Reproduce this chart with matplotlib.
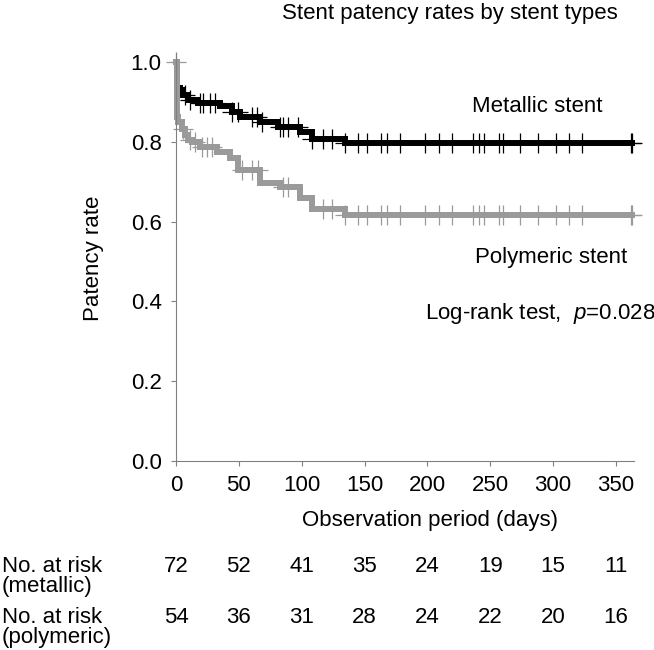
import matplotlib
matplotlib.use("Agg")
import matplotlib.pyplot as plt
import matplotlib.transforms as mtransforms
import numpy as np

plt.rcParams["font.family"] = ["Liberation Sans", "DejaVu Sans"]
plt.rcParams["mathtext.fontset"] = "custom"
plt.rcParams["mathtext.rm"] = "Liberation Sans"
plt.rcParams["mathtext.it"] = "Liberation Sans:italic"

# Kaplan-Meier steps (days, patency rate)
metal_days = [0, 1, 3.2, 5.8, 9.8, 17.8, 35, 44.3, 50.9, 66.8, 81.4, 98.6, 108, 134.4, 363]
metal_rate = [1.0, 0.935, 0.93, 0.918, 0.905, 0.897, 0.889, 0.876, 0.863, 0.849, 0.838,
              0.824, 0.808, 0.798, 0.798]
poly_days = [0, 1, 1.9, 4.5, 7.2, 9.8, 12.5, 19.1, 32.4, 43, 49.6, 66.8, 82.7, 98.6, 108,
             134.4, 363]
poly_rate = [1.0, 0.863, 0.851, 0.832, 0.818, 0.806, 0.800, 0.788, 0.776, 0.759, 0.730,
             0.698, 0.686, 0.659, 0.631, 0.616, 0.616]

# censoring times
late_censor = [145, 151.7, 162.8, 167.6, 178.2, 198.1, 209.5, 219.8, 236, 241.3, 245,
               257.2, 259.9, 273.7, 288.3, 302.3, 312.9, 322.7, 362, 363]
metal_censor = [7.2, 11.1, 19.1, 21.7, 27, 31, 44.3, 49.6, 60.2, 64.2, 68.2, 82.7, 85.4,
                89.3, 97.3, 108, 117.2, 123.9, 134.4] + late_censor
poly_censor = [0, 5.8, 11.1, 15.1, 20.4, 24.4, 28.4, 52.3, 60.2, 65.5, 85.4, 89.3, 117.2,
               123.9, 134.4] + late_censor

risk_days = [0, 50, 100, 150, 200, 250, 300, 350]
risk_metal = [72, 52, 41, 35, 24, 19, 15, 11]
risk_poly = [54, 36, 31, 28, 24, 22, 20, 16]

BLACK = "#000000"
GRAY = "#9a9a9a"
AXIS_GRAY = "#808080"
FS = 16

W, H = 654, 650
fig = plt.figure(figsize=(W / 100, H / 100), dpi=100)
ax = fig.add_axes([176 / W, 1 - 460.7 / H, 458 / W, 408 / H])


def rate_at(days, rate, t):
    idx = np.searchsorted(days, t, side="right") - 1
    return np.asarray(rate)[idx]


# metallic first so the grey drop at day 0 sits on top of it
for days, rate, cens, col in [(metal_days, metal_rate, metal_censor, BLACK),
                              (poly_days, poly_rate, poly_censor, GRAY)]:
    ax.step(days, rate, where="post", color=col, lw=4.3, solid_joinstyle="miter",
            clip_on=False)
    ax.plot(cens, rate_at(days, rate, cens), ls="none", marker="+", ms=14, mew=0.9,
            color=col, clip_on=False)

ax.set_xlim(0, 364.4)
ax.set_ylim(0, 1.024)
ax.set_xticks(risk_days)
ax.set_yticks([0, 0.2, 0.4, 0.6, 0.8, 1.0])
ax.set_yticklabels(["0.0", "0.2", "0.4", "0.6", "0.8", "1.0"])
for side in ["top", "right"]:
    ax.spines[side].set_visible(False)
for side in ["left", "bottom"]:
    ax.spines[side].set_color(AXIS_GRAY)
    ax.spines[side].set_linewidth(0.8)
ax.tick_params(direction="out", length=3.3, width=0.8, color=AXIS_GRAY,
               labelsize=FS, pad=7)


def ftext(x, y, s, **kw):
    fig.text(x / W, 1 - y / H, s, fontsize=FS, **kw)


ftext(450, 19, "Stent patency rates by stent types", ha="center", va="baseline")
ftext(472, 112, "Metallic stent", ha="left", va="baseline")
ftext(475, 263, "Polymeric stent", ha="left", va="baseline")
ftext(425, 319, r"Log-rank test,  $\it{p}$=0.028", ha="left", va="baseline")
ftext(93, 258, "Patency rate", rotation=90, ha="center", va="center")
ftext(430, 526, "Observation period (days)", ha="center", va="baseline")

ftext(2, 572, "No. at risk", ha="left", va="baseline")
ftext(2, 592, "(metallic)", ha="left", va="baseline")
ftext(2, 623, "No. at risk", ha="left", va="baseline")
ftext(2, 643, "(polymeric)", ha="left", va="baseline")

trans = mtransforms.blended_transform_factory(ax.transData, fig.transFigure)
for d, m, p in zip(risk_days, risk_metal, risk_poly):
    ax.text(d, 1 - 572 / H, str(m), transform=trans, ha="center", va="baseline",
            fontsize=FS, clip_on=False)
    ax.text(d, 1 - 623 / H, str(p), transform=trans, ha="center", va="baseline",
            fontsize=FS, clip_on=False)

fig.savefig("out.png", dpi=100)
